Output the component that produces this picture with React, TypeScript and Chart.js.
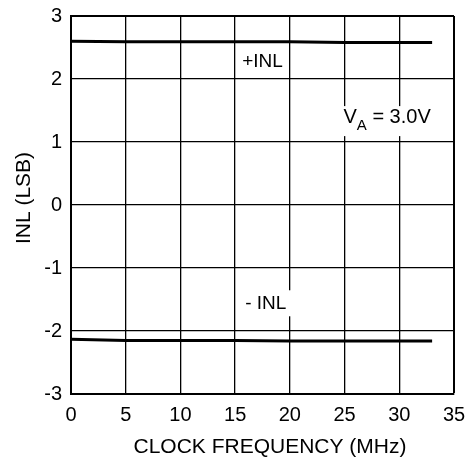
import React, { useEffect, useRef } from "react";
import { Chart, registerables } from "chart.js";

Chart.register(...registerables);

const clockMHz = [0, 5, 10, 15, 20, 25, 30, 33];
const plusINL = [2.6, 2.59, 2.59, 2.59, 2.59, 2.58, 2.58, 2.58];
const minusINL = [-2.13, -2.15, -2.15, -2.15, -2.16, -2.16, -2.16, -2.16];

const xTicks = [0, 5, 10, 15, 20, 25, 30, 35];
const yTicks = [-3, -2, -1, 0, 1, 2, 3];

const xTitle = "CLOCK FREQUENCY (MHz)";
const yTitle = "INL (LSB)";

const FONT = "'Liberation Sans', Arial, sans-serif";

const labelPlugin = {
  id: "labels",
  afterDatasetsDraw(chart: any) {
    const { ctx, scales } = chart;
    const xs = scales.x;
    const ys = scales.y;
    ctx.save();
    const box = (text: string, cx: number, cy: number, padR: number) => {
      ctx.font = `19px ${FONT}`;
      const w = ctx.measureText(text).width;
      ctx.fillStyle = "#fff";
      ctx.fillRect(cx - w / 2 - 3, cy - 13, w + 3 + padR, 26);
      ctx.fillStyle = "#000";
      ctx.textAlign = "center";
      ctx.textBaseline = "middle";
      ctx.fillText(text, cx, cy);
    };
    box("+INL", xs.getPixelForValue(17.5), ys.getPixelForValue(2.27), 3);
    box("- INL", xs.getPixelForValue(17.8), ys.getPixelForValue(-1.56), 7);
    const x0 = xs.getPixelForValue(24.9);
    const yb = ys.getPixelForValue(1.3);
    ctx.font = `20px ${FONT}`;
    const w1 = ctx.measureText("V").width;
    ctx.font = `15px ${FONT}`;
    const w2 = ctx.measureText("A").width;
    ctx.font = `20px ${FONT}`;
    const w3 = ctx.measureText(" = 3.0V").width;
    ctx.fillStyle = "#fff";
    ctx.fillRect(x0 - 3, yb - 17, w1 + w2 + w3 + 6, 30);
    ctx.fillStyle = "#000";
    ctx.textAlign = "left";
    ctx.textBaseline = "alphabetic";
    ctx.fillText("V", x0, yb);
    ctx.font = `15px ${FONT}`;
    ctx.fillText("A", x0 + w1, yb + 7);
    ctx.font = `20px ${FONT}`;
    ctx.fillText(" = 3.0V", x0 + w1 + w2, yb);

    // axis titles
    ctx.font = `21px ${FONT}`;
    ctx.textAlign = "center";
    ctx.textBaseline = "middle";
    ctx.fillText(xTitle, 270, 447);
    ctx.translate(24, 198);
    ctx.rotate(-Math.PI / 2);
    ctx.fillText(yTitle, 0, 0);
    ctx.restore();
  },
};

export default function App() {
  const ref = useRef<HTMLCanvasElement>(null);
  useEffect(() => {
    if (!ref.current) return;
    const chart = new Chart(ref.current, {
      type: "line",
      data: {
        datasets: [
          {
            label: "+INL",
            data: clockMHz.map((x, i) => ({ x, y: plusINL[i] })),
            borderColor: "#000",
            borderWidth: 3,
            pointRadius: 0,
            tension: 0,
          },
          {
            label: "-INL",
            data: clockMHz.map((x, i) => ({ x, y: minusINL[i] })),
            borderColor: "#000",
            borderWidth: 3,
            pointRadius: 0,
            tension: 0,
          },
        ],
      },
      options: {
        responsive: false,
        animation: false,
        devicePixelRatio: 1,
        layout: { padding: { top: 16, right: 18, left: 0, bottom: 0 } },
        plugins: { legend: { display: false }, tooltip: { enabled: false } },
        scales: {
          x: {
            type: "linear",
            min: 0,
            max: 35,
            afterFit: (s: any) => {
              s.height = 67;
              s.paddingLeft = 0;
              s.paddingRight = 0;
            },
            afterBuildTicks: (s: any) => {
              s.ticks = xTicks.map((v) => ({ value: v }));
            },
            ticks: {
              color: "#000",
              font: { family: FONT, size: 20 },
              padding: 9,
              maxRotation: 0,
            },
            grid: {
              color: "#000",
              lineWidth: (c: any) => (c.index === xTicks.length - 1 ? 2 : 1.3),
              drawTicks: false,
            },
            border: { color: "#000", width: 2 },
            title: { display: false },
          },
          y: {
            type: "linear",
            min: -3,
            max: 3,
            afterFit: (s: any) => {
              s.width = 71;
              s.paddingTop = 0;
              s.paddingBottom = 0;
            },
            afterBuildTicks: (s: any) => {
              s.ticks = yTicks.map((v) => ({ value: v }));
            },
            ticks: {
              color: "#000",
              font: { family: FONT, size: 20 },
              padding: 9,
            },
            grid: {
              color: "#000",
              lineWidth: (c: any) => (c.index === yTicks.length - 1 ? 2 : 1.3),
              drawTicks: false,
            },
            border: { color: "#000", width: 2 },
            title: { display: false },
          },
        },
      },
      plugins: [labelPlugin],
    } as any);
    return () => chart.destroy();
  }, []);
  return (
    <div style={{ position: "absolute", left: 0, top: 0, width: 472, height: 461, background: "#fff" }}>
      <canvas ref={ref} width={472} height={461} style={{ display: "block" }} />
    </div>
  );
}
